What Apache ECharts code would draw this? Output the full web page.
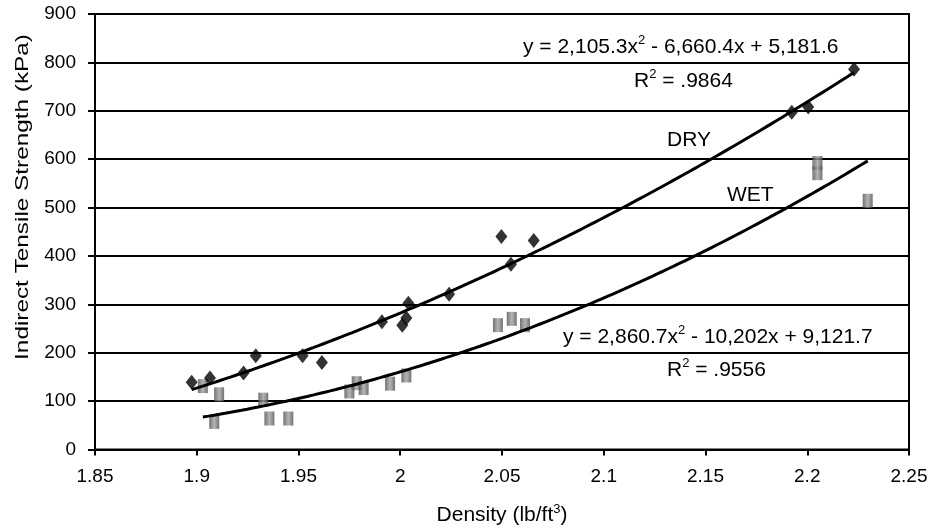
<!DOCTYPE html>
<html>
<head>
<meta charset="utf-8">
<script src="https://cdn.jsdelivr.net/npm/echarts@6/dist/echarts.min.js"></script>
<style>
  html, body { margin: 0; padding: 0; background: #fff; }
  #chart { width: 932px; height: 531px; }
</style>
</head>
<body>
<div id="chart"></div>
<script>
// Indirect tensile strength vs. density, dry and wet specimens
const dryDensity  = [1.8975, 1.9065, 1.923, 1.929, 1.952, 1.9615, 1.991, 2.001, 2.003, 2.004, 2.024, 2.0497, 2.0544, 2.0656, 2.1924, 2.2005, 2.223];
const dryStrength = [139, 148, 158, 194, 194, 180, 264, 257, 272, 302, 321, 440, 383, 432, 697, 708, 786];

const wetDensity  = [1.903, 1.911, 1.9086, 1.9327, 1.9357, 1.945, 1.975, 1.9786, 1.982, 1.995, 2.003, 2.048, 2.0548, 2.0613, 2.205, 2.205, 2.2297];
const wetStrength = [131, 114, 57, 103, 64, 64, 120, 137, 127, 136, 153, 257, 270, 257, 571, 592, 514];

// Quadratic trendline coefficients [a, b, c] for y = a*x^2 + b*x + c
const dryFit = [2105.3, -6660.4, 5181.6];
const wetFit = [2860.7, -10202, 9121.7];

const xTicks = [1.85, 1.9, 1.95, 2, 2.05, 2.1, 2.15, 2.2, 2.25];
const yTicks = [0, 100, 200, 300, 400, 500, 600, 700, 800, 900];

const FONT = '"Liberation Sans", Arial, sans-serif';

function zip(xs, ys) { return xs.map((x, i) => [x, ys[i]]); }

// Sample the fitted curve across the range covered by a series
function fitCurve(coef, xs) {
  const lo = Math.min(...xs), hi = Math.max(...xs);
  const pts = [];
  const n = 120;
  for (let i = 0; i <= n; i++) {
    const x = lo + (hi - lo) * i / n;
    pts.push([x, coef[0] * x * x + coef[1] * x + coef[2]]);
  }
  return pts;
}

const chart = echarts.init(document.getElementById('chart'), null, { renderer: 'canvas' });

const base = { fontFamily: FONT, fontSize: 21, color: '#000', lineHeight: 26 };
const sup  = { fontFamily: FONT, fontSize: 13, color: '#000', lineHeight: 14, verticalAlign: 'top' };

function richText(x, y, text) {
  return {
    type: 'text', x: x, y: y, z: 100,
    style: { text: text, fill: '#000', font: '21px ' + FONT, align: 'left', verticalAlign: 'middle',
             rich: { a: base, s: sup } }
  };
}

const option = {
  backgroundColor: '#fff',
  animation: false,
  grid: { left: 95, right: 23, top: 14, bottom: 79, show: true, borderColor: '#000', borderWidth: 2 },
  xAxis: {
    type: 'value', min: xTicks[0], max: xTicks[xTicks.length - 1], interval: 0.05,
    name: '{a|Density (lb/ft}{s|3}{a|)}',
    nameLocation: 'middle', nameGap: 53,
    nameTextStyle: { rich: { a: base, s: sup } },
    axisLine: { onZero: false, lineStyle: { color: '#000', width: 2 } },
    axisTick: { show: true, inside: false, length: 6, lineStyle: { color: '#000', width: 2 } },
    axisLabel: { margin: 18, fontFamily: FONT, fontSize: 19, color: '#000',
                 formatter: v => String(Number(v.toFixed(2))) },
    splitLine: { show: false }
  },
  yAxis: {
    type: 'value', min: yTicks[0], max: yTicks[yTicks.length - 1], interval: 100,
    axisLine: { show: true, lineStyle: { color: '#000', width: 2 } },
    axisTick: { show: true, inside: false, length: 7, lineStyle: { color: '#000', width: 2 } },
    axisLabel: { margin: 19, fontFamily: FONT, fontSize: 19, color: '#000' },
    splitLine: { show: true, lineStyle: { color: '#000', width: 2 } }
  },
  graphic: [
    {
      type: 'text', x: 23, y: 197, rotation: Math.PI / 2, scaleX: 1.28, scaleY: 1,
      style: { text: 'Indirect Tensile Strength (kPa)', font: '19px ' + FONT, fill: '#000',
               align: 'center', verticalAlign: 'middle' }
    },
    richText(523, 47, '{a|y = 2,105.3x}{s|2}{a| - 6,660.4x + 5,181.6}'),
    richText(634, 81, '{a|R}{s|2}{a| = .9864}'),
    richText(563, 337, '{a|y = 2,860.7x}{s|2}{a| - 10,202x + 9,121.7}'),
    richText(667, 370, '{a|R}{s|2}{a| = .9556}'),
    richText(667, 140, '{a|DRY}'),
    richText(727, 195, '{a|WET}')
  ],
  series: [
    {
      name: 'WET', type: 'scatter', z: 3,
      symbol: 'rect', symbolSize: [10, 14],
      itemStyle: {
        color: new echarts.graphic.LinearGradient(0, 0, 1, 0, [
          { offset: 0, color: '#4f4f4f' },
          { offset: 0.5, color: '#a2a2a2' },
          { offset: 1, color: '#4f4f4f' }
        ])
      },
      data: zip(wetDensity, wetStrength)
    },
    {
      name: 'DRY', type: 'scatter', z: 3,
      symbol: 'diamond', symbolSize: [12, 15],
      itemStyle: { color: '#000' },
      data: zip(dryDensity, dryStrength)
    },
    {
      name: 'DRY fit', type: 'line', z: 4, showSymbol: false, symbol: 'none',
      lineStyle: { color: '#000', width: 3 },
      data: fitCurve(dryFit, dryDensity)
    },
    {
      name: 'WET fit', type: 'line', z: 4, showSymbol: false, symbol: 'none',
      lineStyle: { color: '#000', width: 3 },
      data: fitCurve(wetFit, wetDensity)
    }
  ]
};

chart.setOption(option);
</script>
</body>
</html>
